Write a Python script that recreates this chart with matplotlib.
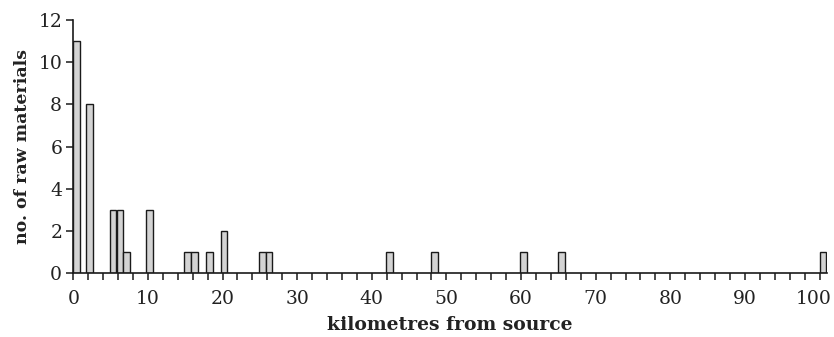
import matplotlib
matplotlib.use("Agg")
import matplotlib.pyplot as plt
from matplotlib.ticker import MultipleLocator
from matplotlib.transforms import ScaledTranslation

# kilometres from source (left edge of each bar) and number of raw materials
km = [0, 1.7, 4.9, 5.8, 6.7, 9.75, 14.9, 15.8, 17.8, 19.75, 24.9, 25.8, 41.9, 48.0, 59.9, 65.0, 100.0]
counts = [11, 8, 3, 3, 1, 3, 1, 1, 1, 2, 1, 1, 1, 1, 1, 1, 1]

x_labels = [0, 10, 20, 30, 40, 50, 60, 70, 80, 90, 100]
y_ticks = [0, 2, 4, 6, 8, 10, 12]

plt.rcParams['font.family'] = ['DejaVu Serif']

fig = plt.figure(figsize=(8.34, 3.37), dpi=100)
ax = fig.add_axes([0.0879, 0.189, 0.9037, 0.7517])

ax.bar(km, counts, width=0.88, align='edge', color='#d3d3d3',
       edgecolor='#1a1a1a', linewidth=1.0, zorder=2)

ax.set_xlim(0, 101)
ax.set_ylim(0, 12)
ax.set_xticks(x_labels)
ax.xaxis.set_minor_locator(MultipleLocator(2))
ax.set_yticks(y_ticks)

for s in ['top', 'right']:
    ax.spines[s].set_visible(False)
for s in ['left', 'bottom']:
    ax.spines[s].set_linewidth(1.2)
    ax.spines[s].set_color('#1a1a1a')

ax.tick_params(axis='both', which='both', direction='out', length=5, width=1.1,
               color='#1a1a1a', labelsize=13.5, labelcolor='#222222')
ax.tick_params(axis='x', which='major', pad=7)
ax.tick_params(axis='y', which='major', pad=3)

# keep the last x tick label inside the picture
last = ax.get_xticklabels()[-1]
last.set_transform(last.get_transform() + ScaledTranslation(-6 / 100, 0, fig.dpi_scale_trans))

ax.set_xlabel('kilometres from source', fontsize=13.5, fontweight='bold', labelpad=6, color='#222222')
ax.set_ylabel('no. of raw materials', fontsize=12.5, fontweight='bold', labelpad=5, color='#222222')

fig.savefig('out.png', dpi=100)
